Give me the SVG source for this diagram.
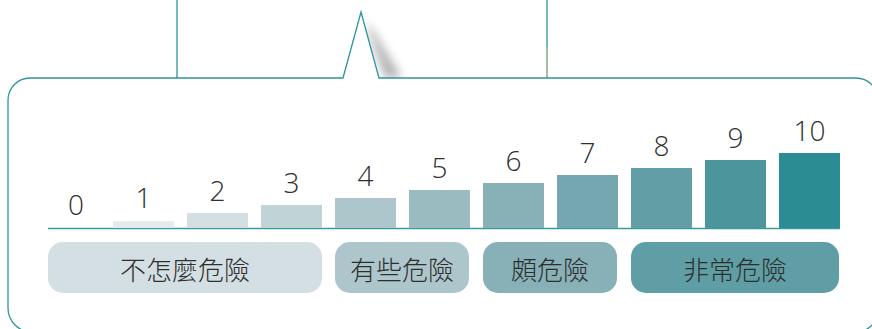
<svg xmlns="http://www.w3.org/2000/svg" width="872" height="329" viewBox="0 0 872 329">
<style>
.num{font-family:"Open Sans","Liberation Sans",sans-serif;font-weight:300;font-size:28px;fill:#2e2e2e;text-anchor:middle}
.lbl{font-family:"Noto Sans CJK TC","Noto Sans CJK SC",sans-serif;font-weight:300;font-size:26px;fill:#2e2e2e;text-anchor:middle;dominant-baseline:central}
.edge{stroke:#2f949c;stroke-width:1.3;fill:none}
</style>
<defs>
<filter id="blur" x="-1" y="-1" width="3" height="3"><feGaussianBlur stdDeviation="5"/></filter>
</defs>
<rect width="872" height="329" fill="#fff"/>
<g id="connectors">
<line class="edge" x1="177" y1="0" x2="177" y2="78"/>
<line class="edge" x1="547" y1="0" x2="547" y2="47"/>
<line x1="547" y1="47" x2="547" y2="78" stroke="#6f9a78" stroke-width="1.3"/>
</g>
<g id="callout">
<polygon points="365,22 385,78 402,78 374,32" fill="#999" filter="url(#blur)" opacity="0.75"/>
<path class="edge" d="M8,100 A22,22 0 0 1 30,78 L343,78 L361,12 L379,78 L856,78 A22,22 0 0 1 878,100 L878,310 A22,22 0 0 1 856,332 L32,332 A24,24 0 0 1 8,308 Z" style="fill:#fff"/>
</g>
<g id="scale">
<line x1="48" y1="228.5" x2="840" y2="228.5" stroke="#3b9aa0" stroke-width="1.3"/>
<rect x="113" y="221" width="61" height="7" fill="#e6ecee"/>
<rect x="187" y="213" width="61" height="15" fill="#d3dfe2"/>
<rect x="261" y="205" width="61" height="23" fill="#c0d3d7"/>
<rect x="335" y="198" width="61" height="30" fill="#adc6cb"/>
<rect x="409" y="190" width="61" height="38" fill="#9abbc0"/>
<rect x="483" y="183" width="61" height="45" fill="#87b0b7"/>
<rect x="557" y="175" width="61" height="53" fill="#74a7b0"/>
<rect x="631" y="168" width="61" height="60" fill="#619ea5"/>
<rect x="705" y="160" width="61" height="68" fill="#4c959c"/>
<rect x="779" y="153" width="61" height="75" fill="#2c8c94"/>
<text class="num" x="76" y="215">0</text>
<text class="num" x="143.5" y="208">1</text>
<text class="num" x="217.5" y="200.5">2</text>
<text class="num" x="291.5" y="193">3</text>
<text class="num" x="365.5" y="185.5">4</text>
<text class="num" x="439.5" y="178">5</text>
<text class="num" x="513.5" y="170.5">6</text>
<text class="num" x="587.5" y="163">7</text>
<text class="num" x="661.5" y="155.5">8</text>
<text class="num" x="735.5" y="148">9</text>
<text class="num" x="809.5" y="140.5">10</text>
</g>
<g id="low">
<rect x="48" y="242" width="274" height="51" rx="15" fill="#d3dfe2"/>
<text class="lbl" x="185" y="268">不怎麼危險</text>
</g>
<g id="some">
<rect x="335" y="242" width="134" height="51" rx="15" fill="#adc6cb"/>
<text class="lbl" x="402" y="268">有些危險</text>
</g>
<g id="quite">
<rect x="483" y="242" width="134" height="51" rx="15" fill="#87b0b7"/>
<text class="lbl" x="550" y="268">頗危險</text>
</g>
<g id="very">
<rect x="631" y="242" width="208" height="51" rx="15" fill="#5f9ea5"/>
<text class="lbl" x="735" y="268">非常危險</text>
</g>
</svg>
